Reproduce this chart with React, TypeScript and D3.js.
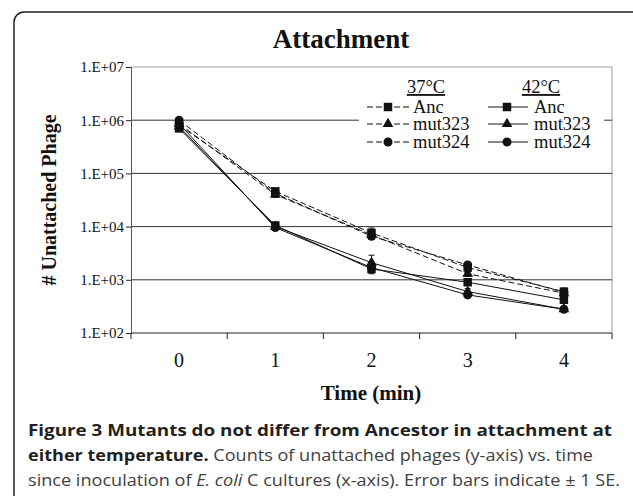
import React, { useEffect, useRef } from 'react';
import * as d3 from 'd3';

// time points (min)
const times = [0, 1, 2, 3, 4];

// unattached phage counts
const anc37 = [8.0e5, 4.6e4, 7.6e3, 1.7e3, 6.0e2];
const mut323_37 = [8.5e5, 4.0e4, 7.0e3, 1.3e3, 5.6e2];
const mut324_37 = [1.0e6, 4.2e4, 6.6e3, 1.9e3, 5.8e2];
const anc42 = [7.0e5, 1.05e4, 1.6e3, 9.0e2, 4.2e2];
const mut323_42 = [7.6e5, 1.0e4, 2.1e3, 6.0e2, 2.8e2];
const mut324_42 = [8.6e5, 9.6e3, 1.7e3, 5.2e2, 2.8e2];

// +/- 1 SE
const anc37se = [1.0e5, 6.0e3, 1.8e3, 2.0e2, 6.0e1];
const mut323_37se = [8.0e4, 4.0e3, 1.0e3, 1.5e2, 4.0e1];
const mut324_37se = [6.0e4, 4.0e3, 8.0e2, 2.0e2, 4.0e1];
const anc42se = [6.0e4, 1.0e3, 2.5e2, 1.2e2, 6.0e1];
const mut323_42se = [6.0e4, 1.0e3, 8.0e2, 8.0e1, 3.0e1];
const mut324_42se = [6.0e4, 8.0e2, 2.0e2, 6.0e1, 3.0e1];

const yTicks = [1e2, 1e3, 1e4, 1e5, 1e6, 1e7];

const seriesNames = ['Anc', 'mut323', 'mut324'];

const series = [
  { name: 'Anc', temp: 37, shape: 'square', values: anc37, se: anc37se },
  { name: 'mut323', temp: 37, shape: 'triangle', values: mut323_37, se: mut323_37se },
  { name: 'mut324', temp: 37, shape: 'circle', values: mut324_37, se: mut324_37se },
  { name: 'Anc', temp: 42, shape: 'square', values: anc42, se: anc42se },
  { name: 'mut323', temp: 42, shape: 'triangle', values: mut323_42, se: mut323_42se },
  { name: 'mut324', temp: 42, shape: 'circle', values: mut324_42, se: mut324_42se },
];

const captionBold1 = 'Figure 3 Mutants do not differ from Ancestor in attachment at';
const captionBold2 = 'either temperature.';
const captionRest2 = ' Counts of unattached phages (y-axis) vs. time';

function symbolFor(shape: string) {
  if (shape === 'square') return d3.symbol().type(d3.symbolSquare).size(72)();
  if (shape === 'triangle') return d3.symbol().type(d3.symbolTriangle).size(50)();
  return d3.symbol().type(d3.symbolCircle).size(64)();
}

function App() {
  const svgRef = useRef<SVGSVGElement>(null);

  useEffect(() => {
    const svg = d3.select(svgRef.current);
    svg.selectAll('*').remove();

    const serif = '"Liberation Serif", "Times New Roman", serif';
    const sans = '"Open Sans", "Noto Sans", sans-serif';

    // frame
    svg.append('rect')
      .attr('x', 14).attr('y', 12).attr('width', 640).attr('height', 520)
      .attr('rx', 10)
      .attr('fill', 'white').attr('stroke', '#222').attr('stroke-width', 1.5);

    const left = 131, right = 612, top = 67, bottom = 333;

    const x = d3.scaleBand<number>().domain(times).range([left, right]);
    const y = d3.scaleLog().domain([1e2, 1e7]).range([bottom, top]);
    const cx = (t: number) => (x(t) as number) + x.bandwidth() / 2;

    // plot border top/right
    svg.append('path')
      .attr('d', `M${left},${top}H${right}V${bottom}`)
      .attr('fill', 'none').attr('stroke', '#999').attr('stroke-width', 1);

    // gridlines
    svg.append('g')
      .selectAll('line')
      .data(yTicks.slice(1, -1))
      .enter()
      .append('line')
      .attr('x1', left).attr('x2', right)
      .attr('y1', (d) => y(d)).attr('y2', (d) => y(d))
      .attr('stroke', '#333').attr('stroke-width', 1);

    // y axis
    const yAxis = d3.axisLeft(y)
      .tickValues(yTicks)
      .tickSize(5)
      .tickPadding(2)
      .tickFormat((d) => `1.E+0${Math.round(Math.log10(+d))}`);
    const gy = svg.append('g').attr('transform', `translate(${left},0)`).call(yAxis);
    gy.select('.domain').attr('stroke', '#555');
    gy.selectAll('line').attr('stroke', '#222');
    gy.selectAll('text').attr('font-family', serif).attr('font-size', 15).attr('fill', '#111');

    // x axis
    const gx = svg.append('g').attr('transform', `translate(0,${bottom})`);
    gx.append('line').attr('x1', left).attr('x2', right).attr('stroke', '#222');
    const edges = times.map((t) => x(t) as number).concat([right]);
    gx.selectAll('.tk')
      .data(edges)
      .enter()
      .append('line')
      .attr('x1', (d) => d).attr('x2', (d) => d)
      .attr('y1', 0).attr('y2', 6)
      .attr('stroke', '#222');
    gx.selectAll('.lbl')
      .data(times)
      .enter()
      .append('text')
      .attr('x', (d) => cx(d))
      .attr('y', 34)
      .attr('text-anchor', 'middle')
      .attr('font-family', serif).attr('font-size', 20).attr('fill', '#111')
      .text((d) => d);

    // titles
    svg.append('text')
      .attr('x', 341).attr('y', 48)
      .attr('text-anchor', 'middle')
      .attr('font-family', serif).attr('font-size', 27).attr('font-weight', 'bold').attr('fill', '#111')
      .text('Attachment');
    svg.append('text')
      .attr('x', 371).attr('y', 400)
      .attr('text-anchor', 'middle')
      .attr('font-family', serif).attr('font-size', 21).attr('font-weight', 'bold').attr('fill', '#111')
      .text('Time (min)');
    svg.append('text')
      .attr('transform', `translate(56,${(top + bottom) / 2}) rotate(-90)`)
      .attr('text-anchor', 'middle')
      .attr('font-family', serif).attr('font-size', 20).attr('font-weight', 'bold').attr('fill', '#111')
      .text('# Unattached Phage');

    // lines
    const line = d3.line<number>()
      .x((d, i) => cx(times[i]))
      .y((d) => y(d));

    series.forEach((s) => {
      svg.append('path')
        .datum(s.values)
        .attr('d', line)
        .attr('fill', 'none')
        .attr('stroke', '#111')
        .attr('stroke-width', 1)
        .attr('stroke-dasharray', s.temp === 37 ? '6,3' : null);
    });

    // error bars + markers
    series.forEach((s) => {
      const g = svg.append('g');
      s.values.forEach((v, i) => {
        const px = cx(times[i]);
        const lo = y(Math.max(v - s.se[i], 1e2));
        const hi = y(v + s.se[i]);
        g.append('line').attr('x1', px).attr('x2', px).attr('y1', lo).attr('y2', hi)
          .attr('stroke', '#111');
        [lo, hi].forEach((yy) => {
          g.append('line').attr('x1', px - 3).attr('x2', px + 3).attr('y1', yy).attr('y2', yy)
            .attr('stroke', '#111');
        });
        g.append('path')
          .attr('d', symbolFor(s.shape))
          .attr('transform', `translate(${px},${y(v)})`)
          .attr('fill', '#111');
      });
    });

    // legend
    const lg = svg.append('g');
    lg.append('rect').attr('x', 359).attr('y', 76).attr('width', 245).attr('height', 76).attr('fill', 'white');
    [{ t: '37°C', x: 426 }, { t: '42°C', x: 541 }].forEach((h) => {
      lg.append('text')
        .attr('x', h.x).attr('y', 93)
        .attr('text-anchor', 'middle')
        .attr('font-family', serif).attr('font-size', 18.5).attr('fill', '#111')
        .attr('text-decoration', 'underline')
        .text(h.t);
    });
    const rowY = [107, 124, 142];
    series.forEach((s) => {
      const row = seriesNames.indexOf(s.name);
      const x0 = s.temp === 37 ? 367 : 488;
      const x1 = s.temp === 37 ? 410 : 528;
      const mx = s.temp === 37 ? 388 : 507;
      const ty = rowY[row];
      lg.append('line')
        .attr('x1', x0).attr('x2', x1).attr('y1', ty).attr('y2', ty)
        .attr('stroke', '#111')
        .attr('stroke-dasharray', s.temp === 37 ? '6,3' : null);
      lg.append('path')
        .attr('d', symbolFor(s.shape))
        .attr('transform', `translate(${mx},${ty})`)
        .attr('fill', '#111');
      lg.append('text')
        .attr('x', s.temp === 37 ? 413 : 534).attr('y', ty + 6)
        .attr('font-family', serif).attr('font-size', 18.5).attr('fill', '#111')
        .text(s.name);
    });

    // caption
    const cap = svg.append('g').attr('font-family', sans).attr('font-size', 15.5);
    cap.append('text')
      .attr('x', 28).attr('y', 436)
      .attr('font-weight', 'bold').attr('fill', '#231f20')
      .attr('textLength', 584).attr('lengthAdjust', 'spacingAndGlyphs')
      .text(captionBold1);
    const t2 = cap.append('text').attr('x', 28).attr('y', 461)
      .attr('textLength', 565).attr('lengthAdjust', 'spacingAndGlyphs');
    t2.append('tspan').attr('font-weight', 'bold').attr('fill', '#231f20').text(captionBold2);
    t2.append('tspan').attr('fill', '#414042').text(captionRest2);
    const t3 = cap.append('text').attr('x', 28).attr('y', 486)
      .attr('textLength', 592).attr('lengthAdjust', 'spacingAndGlyphs')
      .attr('fill', '#414042');
    t3.append('tspan').text('since inoculation of ');
    t3.append('tspan').attr('font-style', 'italic').text('E. coli');
    t3.append('tspan').text(' C cultures (x-axis). Error bars indicate \u00b1 1 SE.');
  }, []);

  return (
    <svg ref={svgRef} width="633" height="496" style={{ position: 'absolute', left: 0, top: 0, background: 'white' }}></svg>
  );
}

export default App;
